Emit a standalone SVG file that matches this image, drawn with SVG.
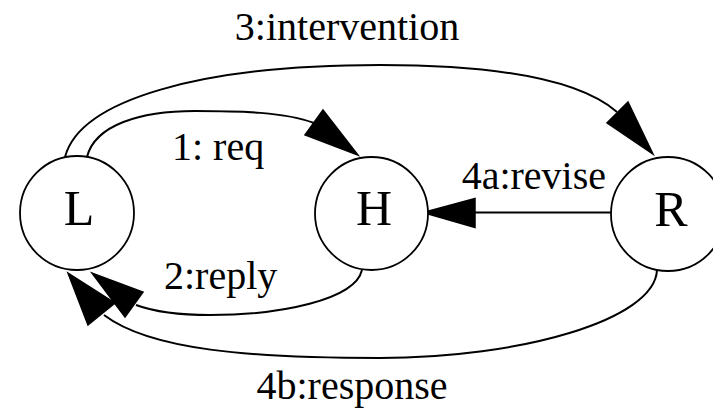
<svg xmlns="http://www.w3.org/2000/svg" width="713" height="413" viewBox="0 0 713 413">
  <style>
    .node circle { fill: #ffffff; stroke: #000000; stroke-width: 1.8; }
    .node text { font-size: 50px; text-anchor: middle; fill: #000000; }
    .edge path { fill: none; stroke: #000000; stroke-width: 2; }
    .edge polygon { fill: #000000; stroke: #000000; stroke-width: 1.5; stroke-linejoin: miter; }
    .elabel { font-size: 40px; fill: #000000; }
  </style>
  <rect width="713" height="413" fill="#ffffff"/>

  <!-- connectors -->
  <g id="edges" font-family="'Liberation Serif', 'DejaVu Serif', serif">
    <!-- L -> H : 1: req -->
    <g class="edge" id="edge-L-H">
      <path d="M 87,157 C 95,125 140,111 195,111 C 240,111 285,112 314,123"/>
      <polygon points="323,110 305,135 358,155"/>
      <text class="elabel" x="172" y="160">1: req</text>
    </g>
    <!-- H -> L : 2:reply -->
    <g class="edge" id="edge-H-L">
      <path d="M 362,270 C 355,300 280,315 210,315 C 180,315 155,312 136,305"/>
      <polygon points="125,317 143,292 92,273"/>
      <text class="elabel" x="164" y="289">2:reply</text>
    </g>
    <!-- L -> R : 3:intervention -->
    <g class="edge" id="edge-L-R">
      <path d="M 65,157 C 80,100 200,65 380,65 C 500,65 580,80 617,112"/>
      <polygon points="628,102 607,123 653,154"/>
      <text class="elabel" x="347" y="40" text-anchor="middle">3:intervention</text>
    </g>
    <!-- R -> H : 4a:revise -->
    <g class="edge" id="edge-R-H">
      <path d="M 611,212.5 L 474,212.5"/>
      <polygon points="475,198.5 475,227.5 423,212.5"/>
      <text class="elabel" x="606" y="189" text-anchor="end">4a:revise</text>
    </g>
    <!-- R -> L : 4b:response -->
    <g class="edge" id="edge-R-L">
      <path d="M 657,270 C 655,320 520,358 380,358 C 250,358 150,350 104,315"/>
      <polygon points="88,325 115,303 68,273"/>
      <text class="elabel" x="352" y="399" text-anchor="middle">4b:response</text>
    </g>
  </g>

  <!-- nodes -->
  <g id="nodes" font-family="'Liberation Serif', 'DejaVu Serif', serif">
    <g class="node" id="node-L">
      <circle cx="77" cy="213" r="57"/>
      <text x="79" y="225">L</text>
    </g>
    <g class="node" id="node-H">
      <circle cx="371.5" cy="213.5" r="56.5"/>
      <text x="374" y="225">H</text>
    </g>
    <g class="node" id="node-R">
      <circle cx="668" cy="214" r="57"/>
      <text x="671" y="226">R</text>
    </g>
  </g>
</svg>
